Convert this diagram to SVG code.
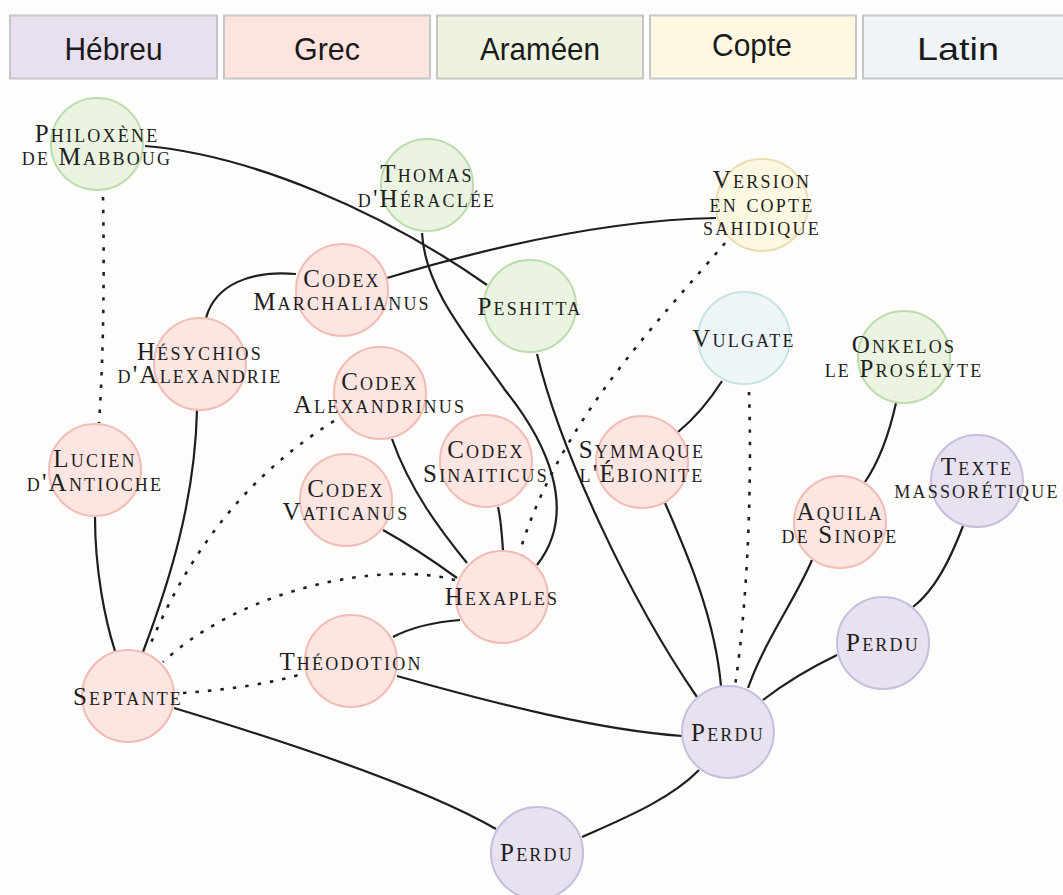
<svg xmlns="http://www.w3.org/2000/svg" width="1063" height="895" viewBox="0 0 1063 895">
<style>
.bg{fill:#fefdfc}
.hb{stroke:#c6c6c6;stroke-width:2}
.ht{font-family:"Liberation Sans",Arial,sans-serif;font-size:32px;fill:#1a1a1a;text-anchor:middle}
.n circle{stroke-width:2}
.gr circle{fill:#fde6e2;stroke:#f1bcb5}
.ar circle{fill:#ebf4e1;stroke:#bddcae}
.co circle{fill:#fdf8e2;stroke:#ecdcb2}
.la circle{fill:#eef5f8;stroke:#c6e3e3}
.he circle{fill:#e7e1f0;stroke:#c5bedd}
.n text{font-family:"Liberation Serif","Times New Roman",serif;font-size:25px;font-variant:small-caps;letter-spacing:2.2px;fill:#1e1e1e;text-anchor:middle}
.e path{fill:none;stroke:#1e1e1e;stroke-width:2.2}
.e path.d{stroke-width:2.6;stroke-dasharray:3.5 9}
</style>
<rect class="bg" x="0" y="0" width="1063" height="895"/>
<g id="legend">
<rect class="hb" x="10" y="15.5" width="207" height="63" fill="#e8e0ee"/>
<rect class="hb" x="224" y="15.5" width="206" height="63" fill="#fde4df"/>
<rect class="hb" x="437" y="15.5" width="206" height="63" fill="#edf3df"/>
<rect class="hb" x="650" y="15.5" width="206" height="63" fill="#fef8e2"/>
<rect class="hb" x="863" y="15.5" width="210" height="63" fill="#eff4f8"/>
<text class="ht" x="113.5" y="60" textLength="98" lengthAdjust="spacingAndGlyphs">Hébreu</text>
<text class="ht" x="327" y="60" textLength="66" lengthAdjust="spacingAndGlyphs">Grec</text>
<text class="ht" x="540" y="60" textLength="120" lengthAdjust="spacingAndGlyphs">Araméen</text>
<text class="ht" x="752" y="56" textLength="80" lengthAdjust="spacingAndGlyphs">Copte</text>
<text class="ht" x="958" y="60" textLength="82" lengthAdjust="spacingAndGlyphs">Latin</text>
</g>
<g id="connectors" class="e">
<path d="M145,146 C250,155 380,210 487,285"/>
<path d="M422,233 C425,290 470,340 505,390 C545,440 580,510 537,565"/>
<path d="M387,278 C480,250 600,220 716,218"/>
<path d="M296,274 C250,270 215,285 206,318"/>
<path d="M197,410 C195,500 170,580 143,652"/>
<path d="M95,517 C95,570 105,620 115,651"/>
<path d="M392,439 C410,490 440,530 467,563"/>
<path d="M383,530 C410,545 435,562 457,578"/>
<path d="M498,507 C501,520 502,535 503,551"/>
<path d="M460,620 C435,622 410,628 393,637"/>
<path d="M397,676 C500,705 600,730 682,736"/>
<path d="M537,354 C560,450 630,600 697,697"/>
<path d="M665,503 C690,560 715,620 721,686"/>
<path d="M722,381 C710,400 695,418 678,432"/>
<path d="M896,403 C890,430 880,460 865,482"/>
<path d="M812,560 C795,600 765,640 748,688"/>
<path d="M963,526 C950,560 935,590 913,607"/>
<path d="M837,655 C810,668 785,683 763,700"/>
<path d="M699,770 C670,800 620,820 582,837"/>
<path d="M174,708 C280,740 420,785 496,829"/>
<path class="d" d="M103,197 C105,300 102,380 99,423"/>
<path class="d" d="M334,421 C240,480 185,560 148,650"/>
<path class="d" d="M455,580 C380,560 240,590 163,662"/>
<path class="d" d="M183,693 C225,690 270,684 305,673"/>
<path class="d" d="M725,243 C660,320 560,420 520,551"/>
<path class="d" d="M749,392 C752,480 748,600 735,686"/>
</g>
<g id="philoxene" class="n ar"><circle cx="97" cy="144" r="46"/><text x="97" y="142">Philoxène</text><text x="97" y="165">de Mabboug</text></g>
<g id="thomas" class="n ar"><circle cx="427" cy="185" r="46"/><text x="427" y="182">Thomas</text><text x="427" y="207">d'Héraclée</text></g>
<g id="copte" class="n co"><circle cx="762" cy="205" r="46"/><text x="762" y="188">Version</text><text x="762" y="212">en copte</text><text x="762" y="235">sahidique</text></g>
<g id="peshitta" class="n ar"><circle cx="530" cy="306" r="46"/><text x="530" y="315">Peshitta</text></g>
<g id="vulgate" class="n la"><circle cx="744" cy="338" r="46"/><text x="744" y="347">Vulgate</text></g>
<g id="marchalianus" class="n gr"><circle cx="342" cy="290" r="46"/><text x="342" y="287">Codex</text><text x="342" y="310">Marchalianus</text></g>
<g id="hesychios" class="n gr"><circle cx="200" cy="364" r="46"/><text x="200" y="360">Hésychios</text><text x="200" y="383">d'Alexandrie</text></g>
<g id="alexandrinus" class="n gr"><circle cx="380" cy="393" r="46"/><text x="380" y="390">Codex</text><text x="380" y="413">Alexandrinus</text></g>
<g id="lucien" class="n gr"><circle cx="95" cy="470" r="46"/><text x="95" y="467">Lucien</text><text x="95" y="491">d'Antioche</text></g>
<g id="vaticanus" class="n gr"><circle cx="346" cy="500" r="46"/><text x="346" y="497">Codex</text><text x="346" y="520">Vaticanus</text></g>
<g id="sinaiticus" class="n gr"><circle cx="486" cy="461" r="46"/><text x="486" y="458">Codex</text><text x="486" y="482">Sinaiticus</text></g>
<g id="hexaples" class="n gr"><circle cx="502" cy="597" r="46"/><text x="502" y="605">Hexaples</text></g>
<g id="theodotion" class="n gr"><circle cx="351" cy="661" r="46"/><text x="351" y="670">Théodotion</text></g>
<g id="septante" class="n gr"><circle cx="128" cy="696" r="46"/><text x="128" y="705">Septante</text></g>
<g id="symmaque" class="n gr"><circle cx="642" cy="462" r="46"/><text x="642" y="458">Symmaque</text><text x="642" y="482">l'Ébionite</text></g>
<g id="onkelos" class="n ar"><circle cx="904" cy="357" r="46"/><text x="904" y="353">Onkelos</text><text x="904" y="377">le Prosélyte</text></g>
<g id="massoretique" class="n he"><circle cx="977" cy="481" r="46"/><text x="977" y="475">Texte</text><text x="977" y="498">massorétique</text></g>
<g id="aquila" class="n gr"><circle cx="840" cy="522" r="46"/><text x="840" y="520">Aquila</text><text x="840" y="543">de Sinope</text></g>
<g id="perdu1" class="n he"><circle cx="883" cy="643" r="46"/><text x="883" y="651">Perdu</text></g>
<g id="perdu2" class="n he"><circle cx="728" cy="732" r="46"/><text x="728" y="741">Perdu</text></g>
<g id="perdu3" class="n he"><circle cx="537" cy="853" r="46"/><text x="537" y="861">Perdu</text></g>
</svg>
